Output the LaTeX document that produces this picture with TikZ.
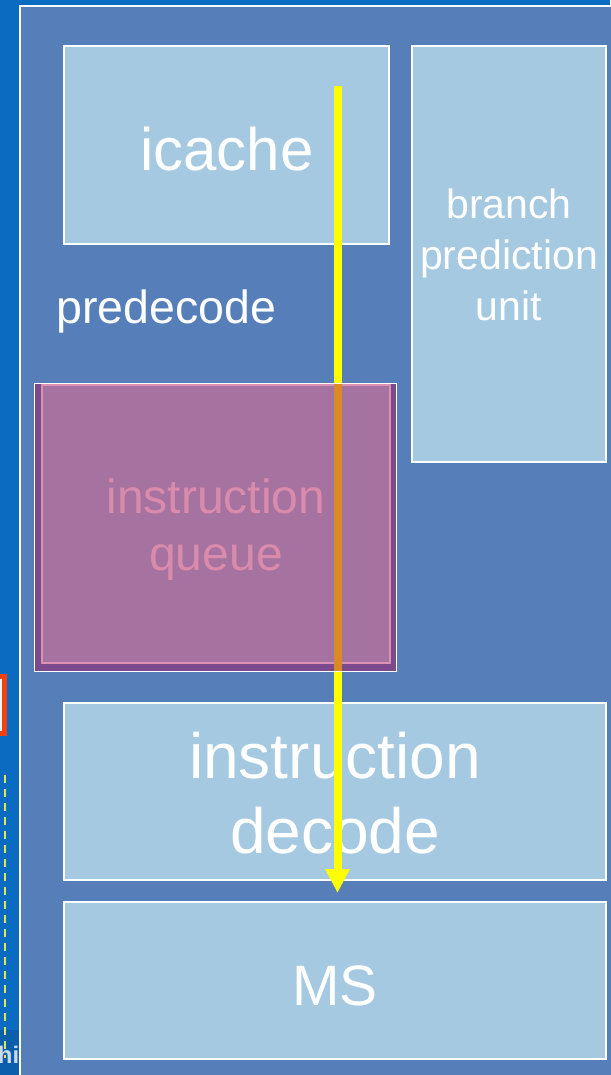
\documentclass[tikz,border=0pt]{standalone}
\usepackage{fontspec}
\setmainfont{Liberation Sans}
\usetikzlibrary{arrows.meta}

\definecolor{slideblue}{HTML}{0A6BC0}
\definecolor{slideband}{HTML}{0A5EAC}
\definecolor{panelblue}{HTML}{567FBA}
\definecolor{unitfill}{HTML}{A6C9E2}
\definecolor{queuedark}{HTML}{7B4A8C}
\definecolor{queuefill}{HTML}{A672A0}
\definecolor{queueedge}{HTML}{DA92B4}
\definecolor{queuetext}{HTML}{D98BAB}
\definecolor{flowyellow}{HTML}{FFFF00}
\definecolor{floworange}{HTML}{DA8A22}
\definecolor{alertred}{HTML}{F2400E}
\definecolor{guideyellow}{HTML}{E2E45A}
\definecolor{footertext}{HTML}{C9D9EA}

\tikzset{
  unit/.style={draw=white, line width=2.5pt, fill=unitfill, inner sep=0pt},
  % multi-line labels are placed by the baseline of their last line
  unitlabel/.style={text=white, inner sep=0pt, align=center, anchor=base},
  flow/.style={draw=flowyellow, line width=8pt,
    -{Triangle[width=23pt,length=24pt]}},
}

\begin{document}
\begin{tikzpicture}[x=1pt, y=-1pt]
  \useasboundingbox (0,0) rectangle (610,1075);

  % slide background and footer strip
  \fill[slideblue] (0,0) rectangle (610,1075);
  \fill[slideband] (0,1030) rectangle (19,1075);
  \begin{scope}
    \clip (0,0) rectangle (19,1075);
    \draw[alertred, line width=5pt, fill=white!92!slideblue] (-60,676.5) rectangle (4.5,733.5);
    \draw[guideyellow, line width=2pt, dash pattern=on 8pt off 6pt] (5,775) -- (5,1058);
    \node[text=footertext, font=\bfseries\fontsize{24}{24}\selectfont, anchor=base east, inner sep=0pt]
      (footer) at (19.5,1063) {hi};
  \end{scope}

  % pipeline panel
  \draw[white, line width=2pt, fill=panelblue] (20,6) rectangle (660,1110);

  % front-end units
  \node[unit, minimum width=325pt, minimum height=198pt] (icache) at (226.5,145) {};
  \node[unit, minimum width=194pt, minimum height=416pt] (bpu) at (509,254) {};
  \node[unit, minimum width=542pt, minimum height=177pt] (decode) at (335,791.5) {};
  \node[unit, minimum width=542pt, minimum height=157pt] (ms) at (335,980.5) {};

  % labels that sit under the fetch flow
  \node[unitlabel, font=\fontsize{64}{75}\selectfont] (decodelabel) at (335,853)
    {instruction\\decode};
  \node[unitlabel, font=\fontsize{57}{57}\selectfont] (mslabel) at (335,1005) {MS};

  % fetch flow
  \coordinate (flowtop) at (337.5,86);
  \coordinate (flowend) at (337.5,893);
  \draw[flow] (flowtop) -- (flowend);

  % instruction queue (drawn over the flow)
  \node[draw=white, line width=1.2pt, fill=queuedark, minimum width=362pt, minimum height=288pt,
    inner sep=0pt] (queue) at (215.5,527.5) {};
  \node[draw=queueedge, line width=2pt, fill=queuefill, minimum width=348pt, minimum height=278pt,
    inner sep=0pt] (queueinner) at (216,524) {};
  \begin{scope}
    \clip (35.1,384.1) rectangle (395.9,670.9);
    \draw[floworange, line width=8pt] (flowtop) -- (flowend);
  \end{scope}

  % remaining labels
  \node[unitlabel, font=\fontsize{60}{60}\selectfont] (icachelabel) at (227,171) {icache};
  \node[text=white, inner sep=0pt, anchor=base west, font=\fontsize{46.5}{46.5}\selectfont]
    (predecode) at (56,323) {predecode};
  \node[unitlabel, font=\fontsize{41}{51}\selectfont] (bpulabel) at (509,320)
    {branch\\prediction\\unit};
  \node[unitlabel, text=queuetext, font=\fontsize{48}{57}\selectfont] (queuelabel) at (216,570)
    {instruction\\queue};
\end{tikzpicture}
\end{document}
